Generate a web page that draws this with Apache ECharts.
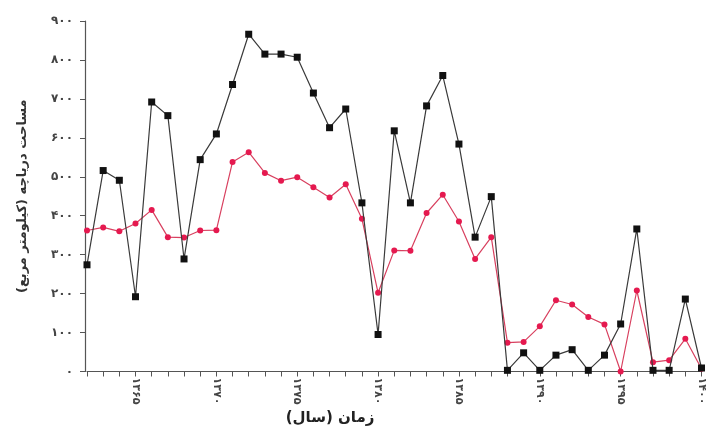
<!DOCTYPE html>
<html>
<head>
<meta charset="utf-8">
<script src="https://cdn.jsdelivr.net/npm/echarts@6/dist/echarts.min.js"></script>
<style>
html,body{margin:0;padding:0;background:#fff;}
#c{width:707px;height:431px;}
</style>
</head>
<body>
<div id="c"></div>
<script>
var years = [1362,1363,1364,1365,1366,1367,1368,1369,1370,1371,1372,1373,1374,1375,1376,1377,1378,1379,1380,1381,1382,1383,1384,1385,1386,1387,1388,1389,1390,1391,1392,1393,1394,1395,1396,1397,1398,1399,1400];
var blackSeries = [274,516,491,192,692,657,289,544,610,737,866,815,815,807,715,626,674,433,95,618,433,682,760,584,345,449,3,48,3,42,56,3,42,122,366,3,3,186,9];
var redSeries = [362,370,360,380,415,345,344,362,363,538,563,510,490,499,473,447,481,392,202,311,310,407,454,385,289,345,74,76,116,183,172,140,121,0,208,24,29,84,7];
var yTicks = [0,100,200,300,400,500,600,700,800,900];

function fa(n){
  var d = '۰۱۲۳۴۵۶۷۸۹';
  return String(n).replace(/[0-9]/g, function(c){ return d[+c]; });
}

var chart = echarts.init(document.getElementById('c'));
chart.setOption({
  backgroundColor: '#ffffff',
  animation: false,
  grid: {left: 87, right: 4, top: 21, bottom: 59.5},
  xAxis: {
    type: 'category',
    boundaryGap: false,
    data: years.map(String),
    axisLine: {show: true, lineStyle: {color: '#555', width: 1.2}},
    axisTick: {show: true, interval: 0, length: 5, lineStyle: {color: '#555'}},
    axisLabel: {
      interval: function(i, v){ return (+v) % 5 === 0; },
      rotate: -90,
      margin: 6,
      fontSize: 11,
      fontWeight: 'bold',
      color: '#444',
      fontFamily: 'DejaVu Sans',
      formatter: function(v){ return fa(v); }
    },
    splitLine: {show: false}
  },
  yAxis: {
    type: 'value',
    min: 0, max: 900, interval: 100,
    offset: 2,
    name: 'مساحت دریاچه (کیلومتر مربع)',
    nameLocation: 'middle',
    nameGap: 56,
    nameTextStyle: {fontSize: 13, fontWeight: 'bold', color: '#333', fontFamily: 'DejaVu Sans'},
    axisLine: {show: true, lineStyle: {color: '#555', width: 1.2}},
    axisTick: {show: true, length: 5, lineStyle: {color: '#555'}},
    axisLabel: {
      margin: 12,
      fontSize: 12,
      fontWeight: 'bold',
      color: '#444',
      fontFamily: 'DejaVu Sans',
      formatter: function(v){ return fa(v); }
    },
    splitLine: {show: false}
  },
  graphic: [{
    type: 'text',
    x: 330, y: 418,
    style: {
      text: 'زمان (سال)',
      textAlign: 'center',
      textVerticalAlign: 'middle',
      fontSize: 15,
      fontWeight: 'bold',
      fill: '#222',
      fontFamily: 'DejaVu Sans'
    }
  }],
  series: [
    {
      type: 'line',
      data: blackSeries,
      symbol: 'rect',
      symbolSize: 7,
      lineStyle: {color: '#3a3a3a', width: 1.2},
      itemStyle: {color: '#111'},
      z: 3
    },
    {
      type: 'line',
      data: redSeries,
      symbol: 'circle',
      symbolSize: 6,
      lineStyle: {color: '#d8405f', width: 1.2},
      itemStyle: {color: '#e5194f'},
      z: 2
    }
  ]
});
</script>
</body>
</html>
